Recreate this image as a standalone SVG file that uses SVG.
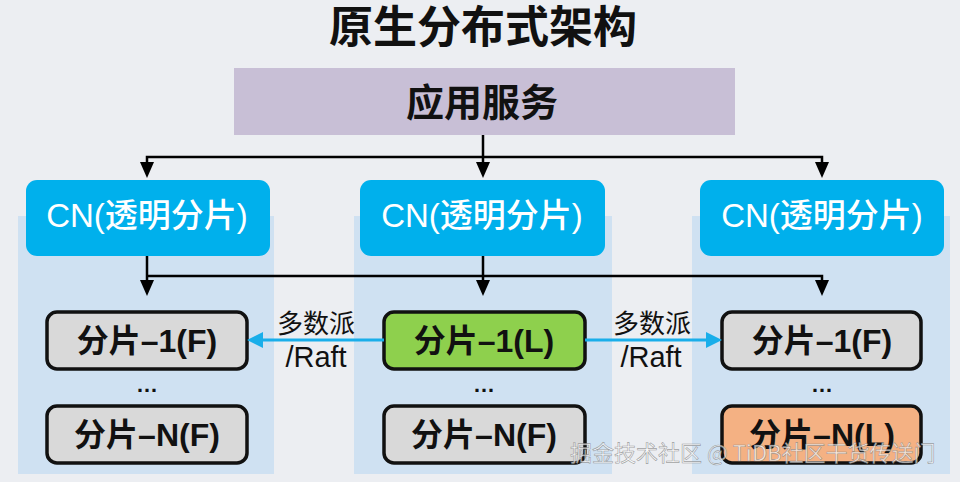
<svg xmlns="http://www.w3.org/2000/svg" width="960" height="482" viewBox="0 0 960 482">
<defs>
<style>
.t{font-family:"Liberation Sans","Noto Sans CJK SC",sans-serif;text-anchor:middle}
.title{font-size:44px;font-weight:700;fill:#111}
.app{font-size:38px;font-weight:700;fill:#111}
.cn{font-size:33px;font-weight:500;fill:#fff}
.sh{font-size:32px;font-weight:700;fill:#111}
.lbl{font-size:26px;fill:#111}
.raft{font-size:29px;fill:#111}
.panel{fill:#cfe1f2}
.cnbox{fill:#00b0ec}
.shard{stroke:#111;stroke-width:3.5}
.line{fill:none;stroke:#000;stroke-width:2.5}
.bl{fill:none;stroke:#19aeea;stroke-width:3}
.wm{font-family:"Noto Sans CJK SC",sans-serif;font-size:22px;fill:#fff;fill-opacity:0.7;stroke:#777;stroke-width:0.6;stroke-opacity:0.7}
</style>
</defs>
<rect width="960" height="482" fill="#eceef2"/>
<text class="t title" x="483" y="43">原生分布式架构</text>

<g id="panels">
<rect class="panel" x="18" y="216" width="256" height="258"/>
<rect class="panel" x="354" y="216" width="258" height="258"/>
<rect class="panel" x="692" y="216" width="258" height="258"/>
</g>

<g id="app">
<rect x="234" y="68" width="501" height="67" fill="#c8bfd6"/>
<text class="t app" x="482" y="116">应用服务</text>
</g>

<g id="cn1"><rect class="cnbox" x="26" y="180" width="244" height="76" rx="11"/><text class="t cn" x="147" y="227">CN(透明分片)</text></g>
<g id="cn2"><rect class="cnbox" x="360" y="180" width="245" height="76" rx="11"/><text class="t cn" x="482" y="227">CN(透明分片)</text></g>
<g id="cn3"><rect class="cnbox" x="700" y="180" width="244" height="76" rx="11"/><text class="t cn" x="822" y="227">CN(透明分片)</text></g>

<g id="s1a"><rect class="shard" x="47" y="312" width="200" height="57" rx="10" fill="#d9d9d9"/><text class="t sh" x="147" y="352">分片–1(F)</text></g>
<g id="s1n"><rect class="shard" x="47" y="406" width="200" height="57" rx="10" fill="#d9d9d9"/><text class="t sh" x="147" y="446">分片–N(F)</text></g>
<g id="s2a"><rect class="shard" x="384" y="312" width="201" height="57" rx="10" fill="#8ed04d"/><text class="t sh" x="484" y="352">分片–1(L)</text></g>
<g id="s2n"><rect class="shard" x="384" y="406" width="201" height="57" rx="10" fill="#d9d9d9"/><text class="t sh" x="484" y="446">分片–N(F)</text></g>
<g id="s3a"><rect class="shard" x="722" y="312" width="199" height="57" rx="10" fill="#d9d9d9"/><text class="t sh" x="822" y="352">分片–1(F)</text></g>
<g id="s3n"><rect class="shard" x="722" y="406" width="199" height="57" rx="10" fill="#f4b183"/><text class="t sh" x="822" y="446">分片–N(L)</text></g>

<g id="dots" class="t" font-size="22" font-weight="700" fill="#111">
<text x="147" y="392">…</text>
<text x="484" y="392">…</text>
<text x="822" y="392">…</text>
</g>

<g id="connectors">
<path class="line" d="M483 135V163M147 163V157H822V163"/>
<path d="M140 162L154 162L147 178Z M476 162L490 162L483 178Z M815 162L829 162L822 178Z" fill="#000"/>
<path class="line" d="M147 256V281M483 256V281M147 276H822V281"/>
<path d="M140 280L154 280L147 296Z M476 280L490 280L483 296Z M815 280L829 280L822 296Z" fill="#000"/>
<path class="bl" d="M384 340H262M585 340H707"/>
<path d="M263 332L263 348L247 340Z M706 332L706 348L722 340Z" fill="#19aeea"/>
<text class="t lbl" x="316" y="333">多数派</text>
<text class="t raft" x="316" y="367">/Raft</text>
<text class="t lbl" x="652" y="333">多数派</text>
<text class="t raft" x="651" y="367">/Raft</text>
</g>

<text class="wm" x="570" y="461">掘金技术社区 @ TiDB社区干货传送门</text>
</svg>
